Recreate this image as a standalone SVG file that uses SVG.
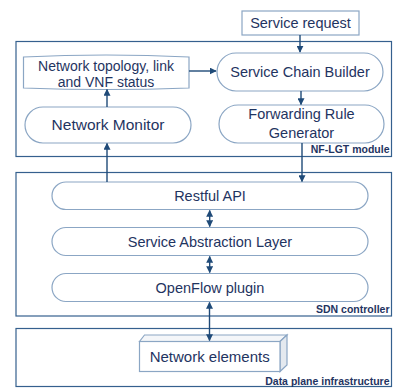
<svg xmlns="http://www.w3.org/2000/svg" width="396" height="388" viewBox="0 0 396 388">
<defs>
<style>
.cont{fill:#fff;stroke:#35608e;stroke-width:1.2}
.node{fill:#fff;stroke:#8ba6c4;stroke-width:1.2}
.t{font-family:"Liberation Sans",Arial,sans-serif;font-size:14.5px;fill:#1f3461;text-anchor:middle}
.lbl{font-family:"Liberation Sans",Arial,sans-serif;font-size:10.5px;font-weight:bold;fill:#1f3461;text-anchor:end}
.c{stroke:#1f4a78;stroke-width:1.4;fill:none}
</style>
<marker id="ah" viewBox="0 0 10 10" refX="9" refY="5" markerWidth="5" markerHeight="5" orient="auto-start-reverse">
<path d="M0,0 L10,5 L0,10 z" fill="#1f4a78"/>
</marker>
</defs>
<rect width="396" height="388" fill="#fff"/>
<g id="nf-lgt-module">
<rect class="cont" x="16" y="41.5" width="375.5" height="115"/>
<text class="lbl" x="389.5" y="152.5">NF-LGT module</text>
</g>
<g id="sdn-controller">
<rect class="cont" x="16" y="172.5" width="375.5" height="143.5"/>
<text class="lbl" x="389.5" y="313">SDN controller</text>
</g>
<g id="data-plane">
<rect class="cont" x="16" y="328.5" width="375.5" height="58"/>
<text class="lbl" x="389.5" y="384.5">Data plane infrastructure</text>
</g>
<g id="service-request">
<rect class="node" x="242" y="11" width="117" height="24"/>
<text class="t" x="300.5" y="28">Service request</text>
</g>
<g id="topology-status">
<path class="node" d="M23.5,57 Q106,53 189,57 L189,88 Q106,91 23.5,88 Z"/>
<text class="t" x="106" y="70.5" style="font-size:14px">Network topology, link</text>
<text class="t" x="106" y="87" style="font-size:14px">and VNF status</text>
</g>
<g id="network-monitor">
<rect class="node" x="25" y="107" width="166" height="36" rx="18"/>
<text class="t" x="108" y="130" style="font-size:15.5px">Network Monitor</text>
</g>
<g id="service-chain-builder">
<rect class="node" x="217" y="53" width="166" height="38" rx="19"/>
<text class="t" x="300" y="77">Service Chain Builder</text>
</g>
<g id="forwarding-rule-generator">
<rect class="node" x="219" y="105" width="165" height="38" rx="19"/>
<text class="t" x="301.5" y="119">Forwarding Rule</text>
<text class="t" x="301.5" y="138">Generator</text>
</g>
<g id="restful-api">
<rect class="node" x="52" y="182" width="316" height="27.5" rx="14"/>
<text class="t" x="210" y="201">Restful API</text>
</g>
<g id="service-abstraction-layer">
<rect class="node" x="52" y="227.5" width="316" height="28" rx="14"/>
<text class="t" x="210" y="246.5">Service Abstraction Layer</text>
</g>
<g id="openflow-plugin">
<rect class="node" x="52" y="273.5" width="316" height="28" rx="14"/>
<text class="t" x="210" y="292.5">OpenFlow plugin</text>
</g>
<g id="network-elements">
<path d="M139.5,341.5 L144.5,335 L287,335 L280,341.5 Z" fill="#f4f6f9" stroke="#8ba6c4" stroke-width="1.2"/>
<path d="M280,341.5 L287,335 L287,365 L280,371.5 Z" fill="#e4e9ef" stroke="#8ba6c4" stroke-width="1.2"/>
<rect class="node" x="139.5" y="341.5" width="140.5" height="30"/>
<text class="t" x="209.7" y="361.5" style="font-size:15px">Network elements</text>
</g>
<g id="connectors">
<path class="c" d="M300,35 L300,52" marker-end="url(#ah)"/>
<path class="c" d="M189,71 L216,71" marker-end="url(#ah)"/>
<path class="c" d="M301,91 L301,104.5" marker-end="url(#ah)"/>
<path class="c" d="M107,107 L107,89.5" marker-end="url(#ah)"/>
<path class="c" d="M107,182 L107,143.5" marker-end="url(#ah)"/>
<path class="c" d="M302,143 L302,181.5" marker-end="url(#ah)"/>
<path class="c" d="M209.7,210.5 L209.7,226.5" marker-start="url(#ah)" marker-end="url(#ah)"/>
<path class="c" d="M209.7,256.5 L209.7,272.5" marker-start="url(#ah)" marker-end="url(#ah)"/>
<path class="c" d="M209.5,302.5 L209.5,340.5" marker-start="url(#ah)" marker-end="url(#ah)"/>
</g>
</svg>
